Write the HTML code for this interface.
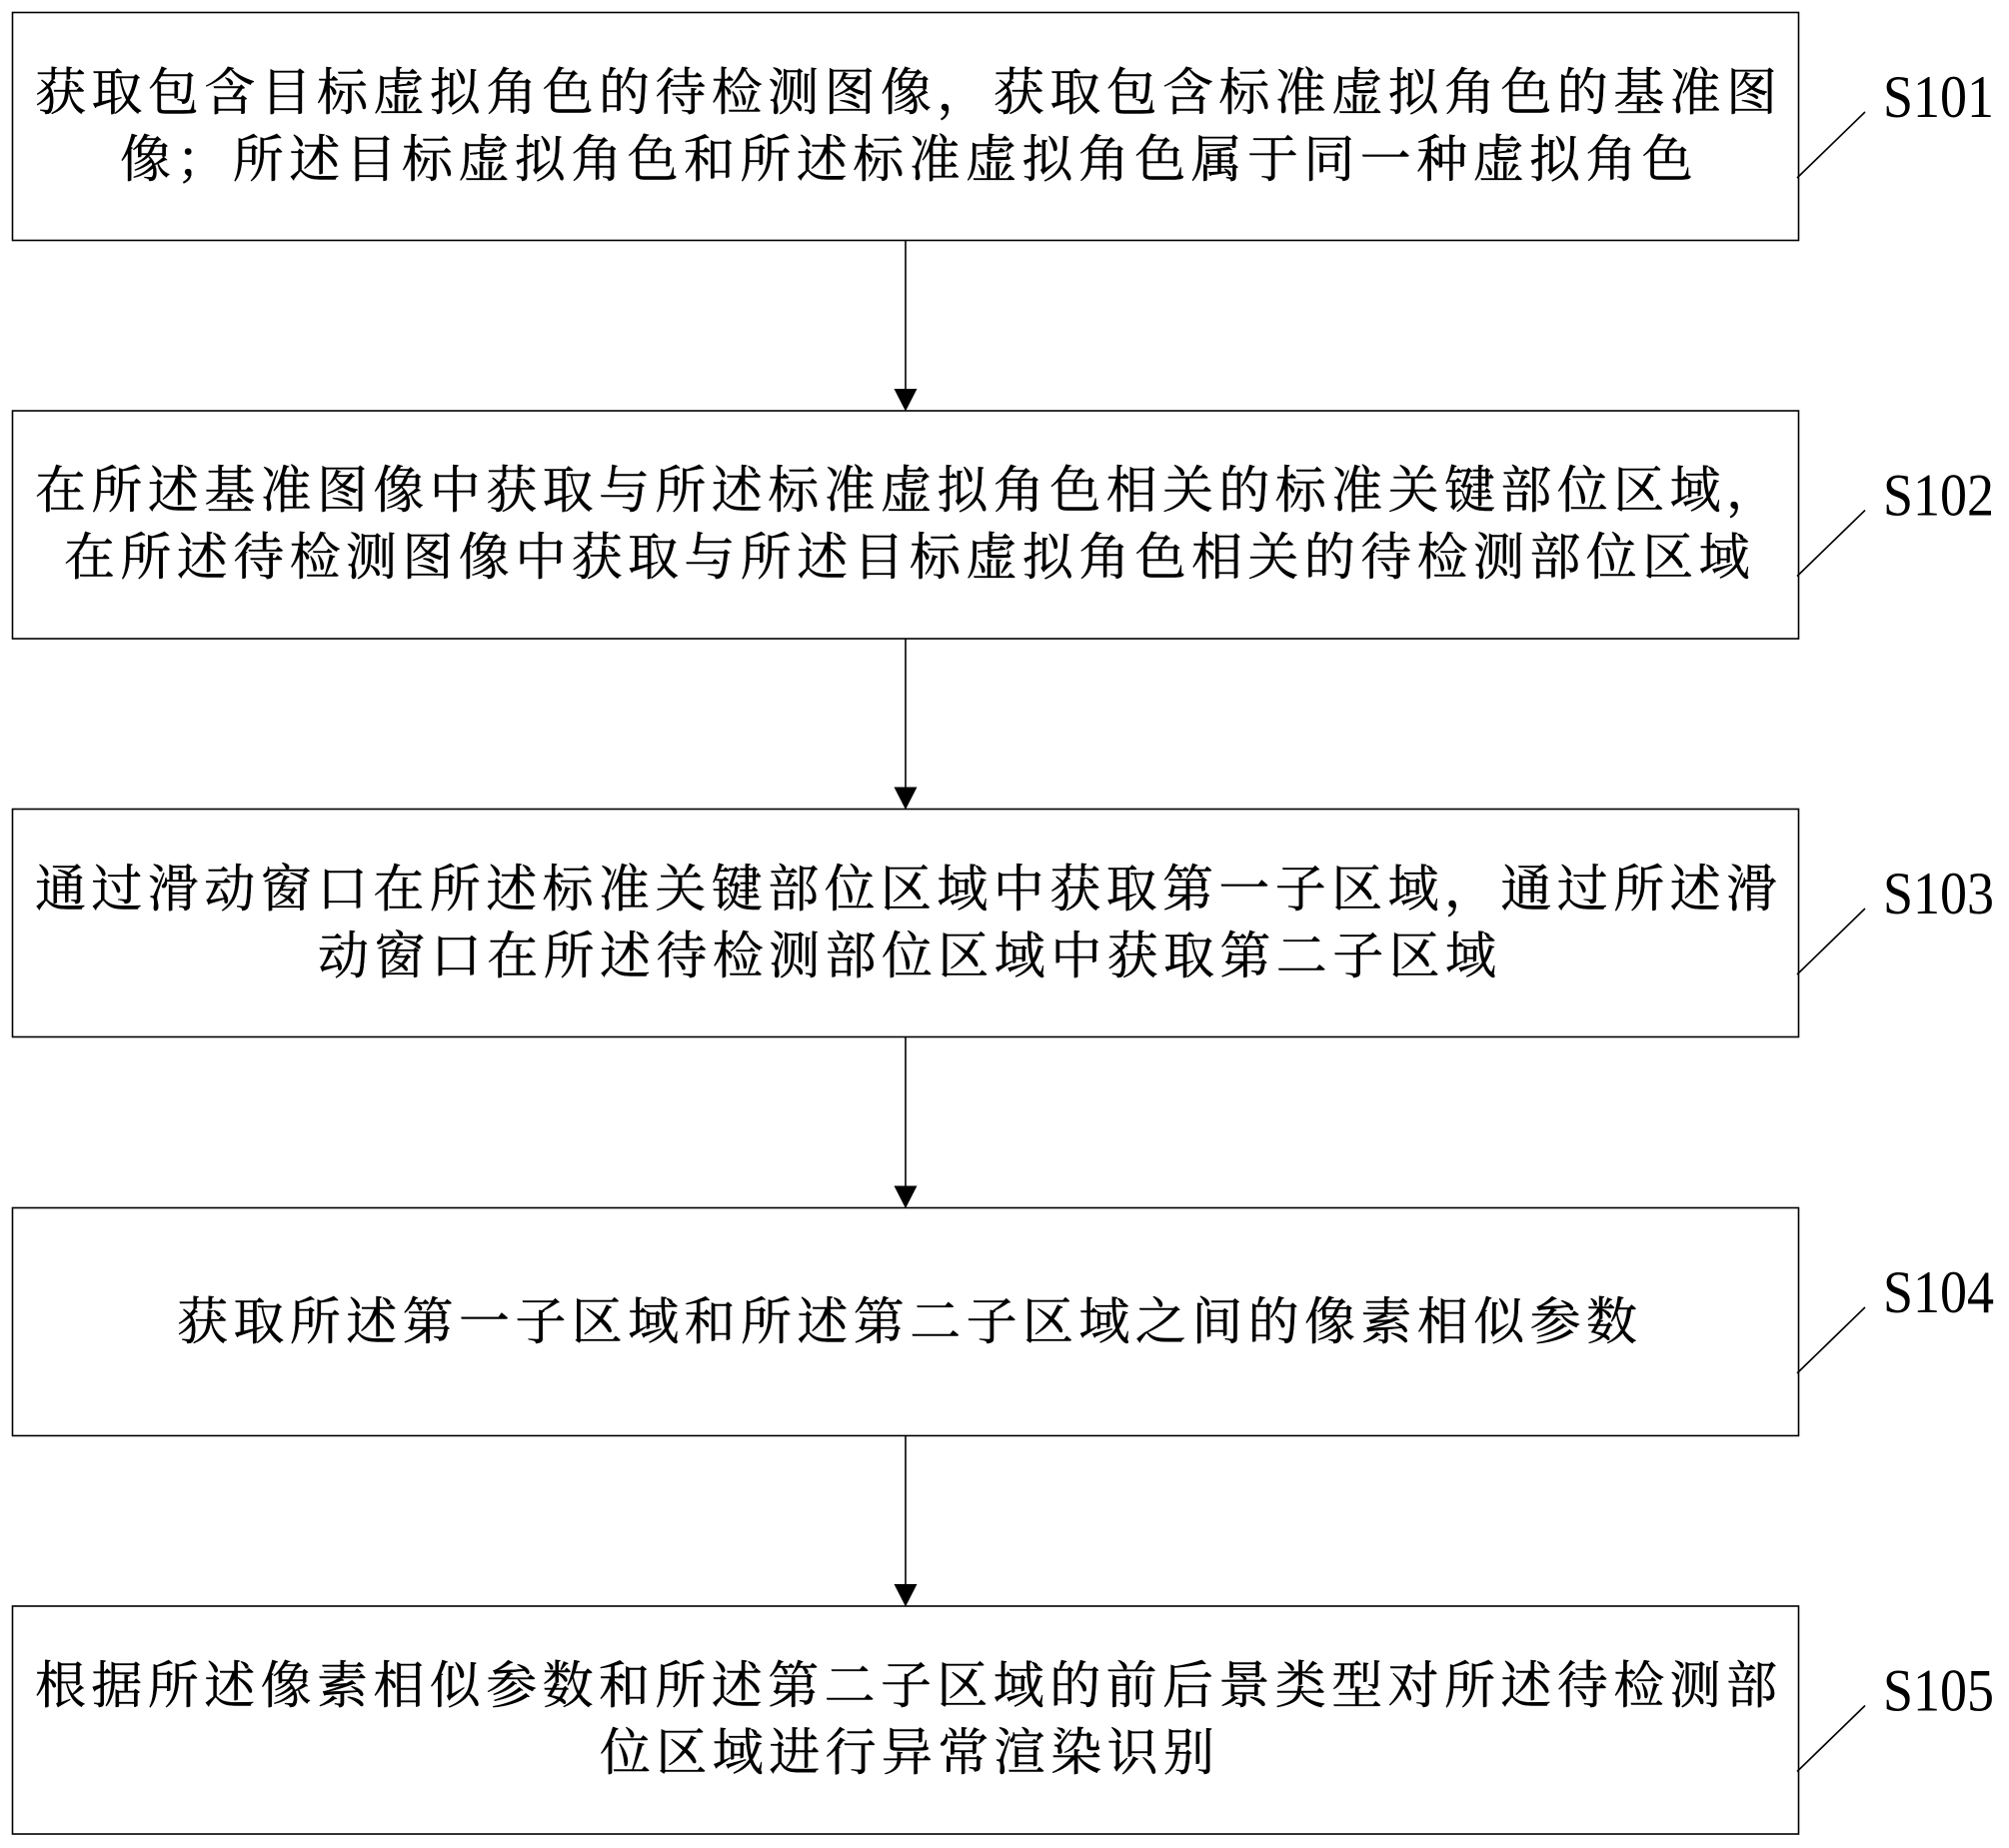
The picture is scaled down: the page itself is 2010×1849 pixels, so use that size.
<!DOCTYPE html>
<html lang="zh">
<head>
<meta charset="utf-8">
<style>
html,body{margin:0;padding:0;background:#fff;}
svg{display:block;}
.t{font-family:"Liberation Serif","Noto Serif CJK SC",serif;font-size:51px;letter-spacing:5.4px;fill:#000;stroke:#000;stroke-width:.4px;}
.l{font-family:"Liberation Serif",serif;font-size:54px;fill:#000;}
rect{fill:#fff;stroke:#000;stroke-width:1.6;}
line{stroke:#000;stroke-width:1.6;}
</style>
</head>
<body>
<svg width="2010" height="1849" viewBox="0 0 2010 1849" xmlns="http://www.w3.org/2000/svg">
<rect x="12.5" y="12.5" width="1787" height="228"/>
<rect x="12.5" y="411" width="1787" height="228"/>
<rect x="12.5" y="809.5" width="1787" height="228"/>
<rect x="12.5" y="1208.5" width="1787" height="228"/>
<rect x="12.5" y="1607" width="1787" height="228"/>

<line x1="906" y1="241" x2="906" y2="392"/><polygon points="894.500,389 917.500,389 906,411.500"/>
<line x1="906" y1="639" x2="906" y2="791"/><polygon points="894.500,787.500 917.500,787.500 906,810"/>
<line x1="906" y1="1038" x2="906" y2="1190"/><polygon points="894.500,1186.500 917.500,1186.500 906,1209"/>
<line x1="906" y1="1437" x2="906" y2="1588"/><polygon points="894.500,1585 917.500,1585 906,1607.500"/>

<text class="t" x="35" y="110">获取包含目标虚拟角色的待检测图像，获取包含标准虚拟角色的基准图</text>
<text class="t" x="120" y="177">像；所述目标虚拟角色和所述标准虚拟角色属于同一种虚拟角色</text>

<text class="t" x="35" y="508">在所述基准图像中获取与所述标准虚拟角色相关的标准关键部位区域，</text>
<text class="t" x="64" y="575">在所述待检测图像中获取与所述目标虚拟角色相关的待检测部位区域</text>

<text class="t" x="35" y="907">通过滑动窗口在所述标准关键部位区域中获取第一子区域，通过所述滑</text>
<text class="t" x="318" y="974">动窗口在所述待检测部位区域中获取第二子区域</text>

<text class="t" x="177" y="1340">获取所述第一子区域和所述第二子区域之间的像素相似参数</text>

<text class="t" x="35" y="1704">根据所述像素相似参数和所述第二子区域的前后景类型对所述待检测部</text>
<text class="t" x="600" y="1771">位区域进行异常渲染识别</text>

<line x1="1798" y1="178" x2="1866" y2="112"/>
<line x1="1798" y1="576.500" x2="1866" y2="510.500"/>
<line x1="1798" y1="975" x2="1866" y2="909"/>
<line x1="1798" y1="1374" x2="1866" y2="1308"/>
<line x1="1798" y1="1772.500" x2="1866" y2="1706.500"/>

<text class="l" transform="translate(1884 117) scale(1 1.12)">S101</text>
<text class="l" transform="translate(1884 515.500) scale(1 1.12)">S102</text>
<text class="l" transform="translate(1884 914) scale(1 1.12)">S103</text>
<text class="l" transform="translate(1884 1313) scale(1 1.12)">S104</text>
<text class="l" transform="translate(1884 1711.500) scale(1 1.12)">S105</text>
</svg>
</body>
</html>
